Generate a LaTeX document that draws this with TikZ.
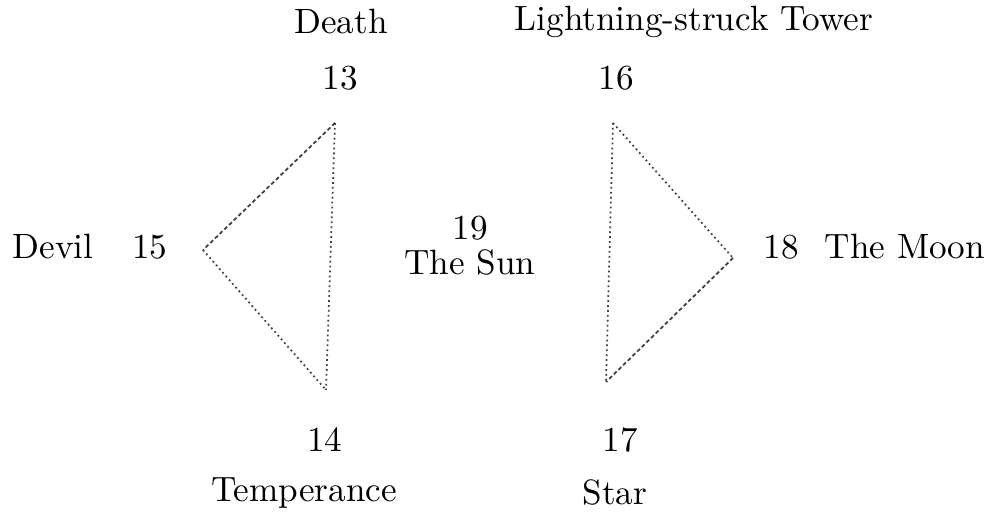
\documentclass[tikz,border=0pt]{standalone}
\usepackage{tikz}
\tikzset{
    lbl/.style={inner sep=1pt, font=\normalsize},
    dotline/.style={line width=0.5pt, black!75, dash pattern=on 0.5pt off 0.9pt},
    dashline/.style={line width=0.5pt, black!75, dash pattern=on 1.1pt off 0.75pt}
}
\begin{document}
\begin{tikzpicture}[x=0.01cm,y=-0.01cm]
\useasboundingbox (0,0) rectangle (993,525);

% triangle corners
\coordinate (c13) at (335,123);
\coordinate (c15) at (203,250);
\coordinate (c14) at (326,390);
\coordinate (c16) at (613,123);
\coordinate (c18) at (733,258);
\coordinate (c17) at (606,382);

% labels
\node[lbl] (death) at (341,22) {Death};
\node[lbl] (n13) at (340,78) {13};
\node[lbl] (tower) at (694,22) {Lightning-struck Tower};
\node[lbl] (n16) at (616,78) {16};
\node[lbl] (devil) at (53,247) {Devil};
\node[lbl] (n15) at (150,247) {15};
\node[lbl] (n19) at (470,228) {19};
\node[lbl] (sun) at (470,263) {The Sun};
\node[lbl] (n18) at (781,247) {18};
\node[lbl] (moon) at (905,247) {The Moon};
\node[lbl] (n14) at (325,440) {14};
\node[lbl] (temp) at (304,493) {Temperance};
\node[lbl] (n17) at (620,440) {17};
\node[lbl] (star) at (615,493) {Star};

% left triangle
\draw[dashline] (c13) -- (c15);
\draw[dotline] (c15) -- (c14);
\draw[dotline] (c13) -- (c14);

% right triangle
\draw[dotline] (c16) -- (c18);
\draw[dashline] (c18) -- (c17);
\draw[dotline] (c16) -- (c17);
\end{tikzpicture}
\end{document}
